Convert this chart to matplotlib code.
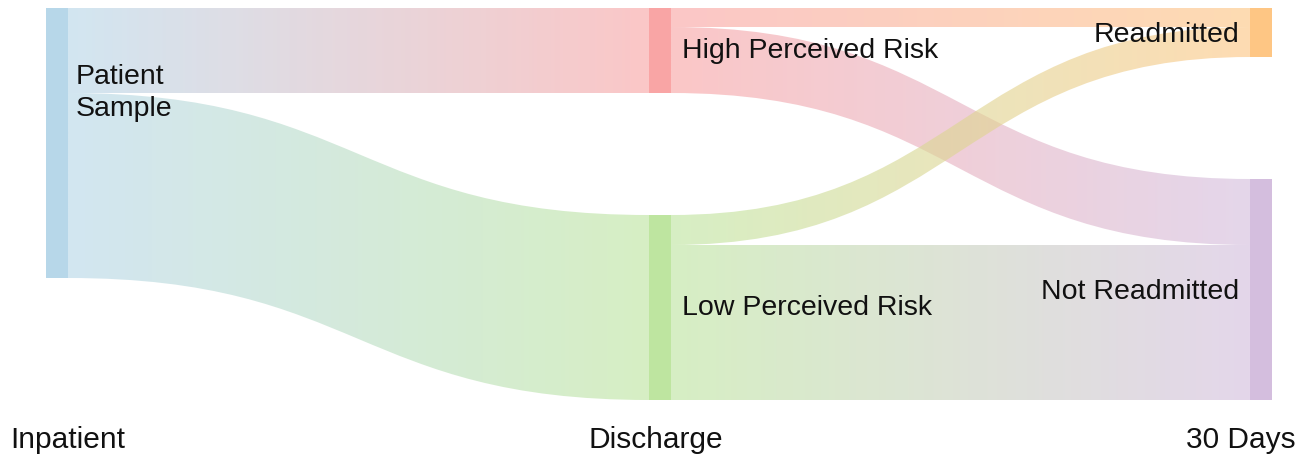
import numpy as np
import matplotlib
matplotlib.use("Agg")
import matplotlib.pyplot as plt
from matplotlib.path import Path
from matplotlib.patches import PathPatch, Rectangle

# nodes and flows
node_labels = ["Patient\nSample", "High Perceived Risk", "Low Perceived Risk",
               "Readmitted", "Not Readmitted"]
node_column = [0, 1, 1, 2, 2]
node_colors = ["#b7d7e9", "#f9a5a5", "#bee5a0", "#fec684", "#d4bede"]
column_titles = ["Inpatient", "Discharge", "30 Days"]

link_source = [0, 0, 1, 1, 2, 2]
link_target = [1, 2, 3, 4, 3, 4]
link_value = [85, 185, 19, 66, 30, 155]

W, H = 1312, 465
col_x = [46, 649, 1250]   # left edge of each node column (px)
node_w = 22
top, bottom = 8, 400
link_alpha = 0.62

fig = plt.figure(figsize=(W / 100, H / 100), dpi=100)
ax = fig.add_axes([0, 0, 1, 1])
ax.set_axis_off()

# node sizes = max(inflow, outflow)
n = len(node_labels)
inflow = np.zeros(n)
outflow = np.zeros(n)
for s, t, v in zip(link_source, link_target, link_value):
    outflow[s] += v
    inflow[t] += v
size = np.maximum(inflow, outflow)

# vertical layout: columns stacked from the top, spread to fill the height
scale = (bottom - top) / max(
    size[[i for i in range(n) if node_column[i] == c]].sum() + 122
    for c in range(3))
scale = 1.0 if scale > 1.0 else scale
node_y0 = np.zeros(n)
node_h = size * scale
for c in range(3):
    idx = [i for i in range(n) if node_column[i] == c]
    if len(idx) == 1:
        node_y0[idx[0]] = top
        continue
    gap = (bottom - top - node_h[idx].sum()) / (len(idx) - 1)
    y = top
    for i in idx:
        node_y0[i] = y
        y += node_h[i] + gap

# link slots inside each node
out_off = node_y0.copy()
in_off = node_y0.copy()
order = sorted(range(len(link_value)),
               key=lambda k: (link_source[k], node_y0[link_target[k]]))
slots = {}
for k in order:
    s = link_source[k]
    h = link_value[k] * scale
    slots[k] = [out_off[s], out_off[s] + h]
    out_off[s] += h
order = sorted(range(len(link_value)),
               key=lambda k: (link_target[k], node_y0[link_source[k]]))
for k in order:
    t = link_target[k]
    h = link_value[k] * scale
    slots[k] += [in_off[t], in_off[t] + h]
    in_off[t] += h

for k in range(len(link_value)):
    s, t = link_source[k], link_target[k]
    ys0, ys1, yt0, yt1 = slots[k]
    xa = col_x[node_column[s]] + node_w
    xb = col_x[node_column[t]]
    xm = (xa + xb) / 2
    verts = [(xa, ys0), (xm, ys0), (xm, yt0), (xb, yt0),
             (xb, yt1), (xm, yt1), (xm, ys1), (xa, ys1), (xa, ys0)]
    codes = [Path.MOVETO, Path.CURVE4, Path.CURVE4, Path.CURVE4,
             Path.LINETO, Path.CURVE4, Path.CURVE4, Path.CURVE4, Path.CLOSEPOLY]
    patch = PathPatch(Path(verts, codes), facecolor="none", edgecolor="none")
    ax.add_patch(patch)
    # colour fades from source node to target node along x
    c0 = np.array(matplotlib.colors.to_rgb(node_colors[s]))
    c1 = np.array(matplotlib.colors.to_rgb(node_colors[t]))
    tt = np.linspace(0, 1, 256)[:, None]
    grad = np.ones((1, 256, 4))
    grad[0, :, :3] = c0 * (1 - tt) + c1 * tt
    grad[0, :, 3] = link_alpha
    im = ax.imshow(grad, extent=(xa, xb, max(ys1, yt1), min(ys0, yt0)),
                   aspect="auto", interpolation="bilinear", zorder=1)
    im.set_clip_path(patch)

label_kw = dict(fontsize=20.5, family="Liberation Sans", color="#111111", zorder=3)
for i in range(n):
    x = col_x[node_column[i]]
    ax.add_patch(Rectangle((x, node_y0[i]), node_w, node_h[i],
                           facecolor=node_colors[i], edgecolor="none", zorder=2))
    yc = node_y0[i] + node_h[i] / 2
    if node_column[i] == 0:
        ax.text(x + node_w + 8, yc - 50, node_labels[i], ha="left", va="center",
                linespacing=1.35, **label_kw)
    elif node_column[i] == 1:
        ax.text(x + node_w + 11, yc, node_labels[i], ha="left", va="center",
                **label_kw)
    else:
        ax.text(x - 11, yc + 2, node_labels[i], ha="right", va="center",
                **label_kw)

title_x = [10, col_x[1] + node_w / 2 - 4, 1296]
title_ha = ["left", "center", "right"]
for c, title in enumerate(column_titles):
    ax.text(title_x[c], 440, title, ha=title_ha[c], va="center",
            fontsize=21.5, family="Liberation Sans", color="#111111")

ax.set_xlim(0, W)
ax.set_ylim(H, 0)
fig.savefig("out.png", dpi=100)
